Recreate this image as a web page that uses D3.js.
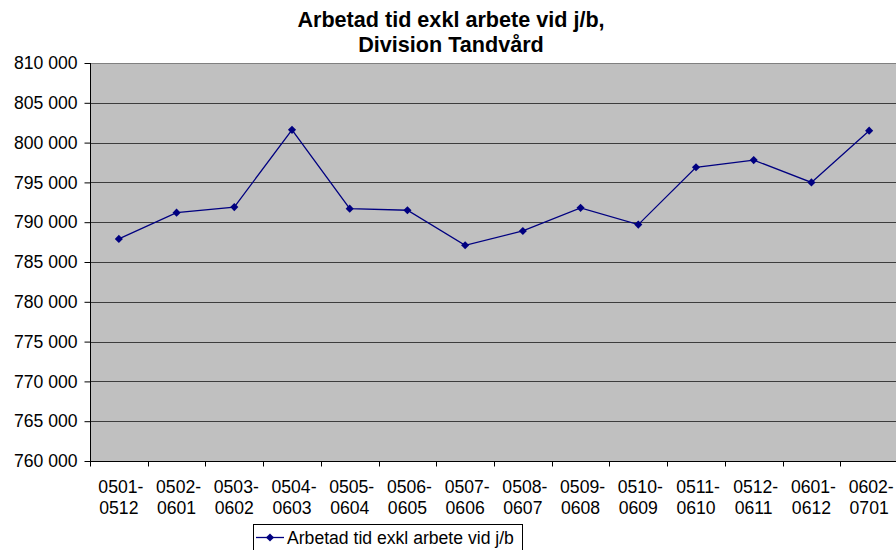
<!DOCTYPE html>
<html>
<head>
<meta charset="utf-8">
<script src="https://cdn.jsdelivr.net/npm/d3@7"></script>
<style>
  body { margin: 0; background: #fff; }
  svg { display: block; font-family: "Liberation Sans", Arial, sans-serif; }
</style>
</head>
<body>
<div id="chart"></div>
<script>
// ----------------------------------------------
// Data
// ----------------------------------------------
const periodsFrom = ['0501', '0502', '0503', '0504', '0505', '0506', '0507',
  '0508', '0509', '0510', '0511', '0512', '0601', '0602'];
const periodsTo = ['0512', '0601', '0602', '0603', '0604', '0605', '0606',
  '0607', '0608', '0609', '0610', '0611', '0612', '0701'];
const hours = [787900, 791200, 791900, 801600, 791700, 791500, 787100,
  788900, 791800, 789700, 796900, 797800, 795000, 801500];
const yTicks = [760000, 765000, 770000, 775000, 780000, 785000, 790000,
  795000, 800000, 805000, 810000];
const seriesName = 'Arbetad tid exkl arbete vid j/b';
const titleLines = ['Arbetad tid exkl arbete vid j/b,', 'Division Tandvård'];

// ----------------------------------------------
// Layout
// ----------------------------------------------
const width = 896, height = 550;
const plot = { left: 90, right: 898, top: 63, bottom: 461 };
const labelSize = 17.6;

const svg = d3.select('#chart').append('svg')
  .attr('width', width)
  .attr('height', height);

const x = d3.scaleBand()
  .domain(periodsFrom.map((d, i) => i))
  .range([plot.left, plot.right]);

const y = d3.scaleLinear()
  .domain([760000, 810000])
  .range([plot.bottom, plot.top]);

const fmt = v => d3.format(',')(v).replace(/,/g, ' ');

// plot background
svg.append('rect')
  .attr('x', plot.left)
  .attr('y', plot.top)
  .attr('width', plot.right - plot.left)
  .attr('height', plot.bottom - plot.top)
  .attr('fill', '#c0c0c0');

svg.append('line')
  .attr('x1', plot.left).attr('x2', plot.right)
  .attr('y1', plot.top + 0.5).attr('y2', plot.top + 0.5)
  .attr('stroke', '#808080');

// gridlines
svg.append('g')
  .selectAll('line')
  .data(yTicks.filter(v => v > 760000 && v < 810000))
  .join('line')
  .attr('x1', plot.left).attr('x2', plot.right)
  .attr('y1', d => Math.round(y(d)) + 0.5)
  .attr('y2', d => Math.round(y(d)) + 0.5)
  .attr('stroke', '#3c3c3c')
  .attr('stroke-width', 1);

// y axis
const yAxis = svg.append('g')
  .attr('transform', `translate(${plot.left + 0.5},0)`)
  .call(d3.axisLeft(y).tickValues(yTicks).tickFormat(fmt).tickSize(6).tickPadding(7));
yAxis.select('.domain').attr('stroke', '#000').attr('d', `M0,${plot.top}V${plot.bottom}`);
yAxis.selectAll('.tick line').attr('stroke', '#000');
yAxis.selectAll('text')
  .attr('font-size', labelSize)
  .attr('fill', '#000')
  .attr('font-family', '"Liberation Sans", Arial, sans-serif');

// x axis - ticks on band boundaries
const xAxis = svg.append('g')
  .attr('transform', `translate(0,${plot.bottom + 0.5})`);
xAxis.append('line')
  .attr('x1', plot.left).attr('x2', plot.right)
  .attr('stroke', '#000');
xAxis.selectAll('line.tk')
  .data(d3.range(periodsFrom.length + 1))
  .join('line')
  .attr('class', 'tk')
  .attr('x1', i => Math.round(plot.left + i * x.bandwidth()) + 0.5)
  .attr('x2', i => Math.round(plot.left + i * x.bandwidth()) + 0.5)
  .attr('y1', 0).attr('y2', 5)
  .attr('stroke', '#000');

const xLabels = xAxis.selectAll('text')
  .data(periodsFrom.map((d, i) => i))
  .join('text')
  .attr('text-anchor', 'middle')
  .attr('font-size', labelSize)
  .attr('fill', '#000');
xLabels.append('tspan')
  .attr('x', i => x(i) + x.bandwidth() / 2 + 2)
  .attr('y', 31)
  .text(i => periodsFrom[i] + '-');
xLabels.append('tspan')
  .attr('x', i => x(i) + x.bandwidth() / 2)
  .attr('y', 52.5)
  .text(i => periodsTo[i]);

// series line
const cx = i => x(i) + x.bandwidth() / 2;
const line = d3.line()
  .x((d, i) => cx(i))
  .y(d => y(d));

svg.append('path')
  .datum(hours)
  .attr('d', line)
  .attr('fill', 'none')
  .attr('stroke', '#000080')
  .attr('stroke-width', 1.3);

const diamond = d3.symbol().type(d3.symbolDiamond2).size(42);
svg.append('g')
  .selectAll('path')
  .data(hours)
  .join('path')
  .attr('d', diamond)
  .attr('transform', (d, i) => `translate(${cx(i)},${y(d)})`)
  .attr('fill', '#000080');

// title
svg.append('g')
  .selectAll('text')
  .data(titleLines)
  .join('text')
  .attr('x', 451)
  .attr('y', (d, i) => 27 + i * 25)
  .attr('text-anchor', 'middle')
  .attr('font-size', 21.6)
  .attr('font-weight', 'bold')
  .attr('fill', '#000')
  .text(d => d);

// legend
const legend = svg.append('g');
legend.append('rect')
  .attr('x', 253.5).attr('y', 524.5)
  .attr('width', 269).attr('height', 26)
  .attr('fill', '#fff')
  .attr('stroke', '#000');
legend.append('line')
  .attr('x1', 256).attr('x2', 284)
  .attr('y1', 537.5).attr('y2', 537.5)
  .attr('stroke', '#000080')
  .attr('stroke-width', 1.3);
legend.append('path')
  .attr('d', diamond)
  .attr('transform', 'translate(270,537.5)')
  .attr('fill', '#000080');
legend.append('text')
  .attr('x', 287)
  .attr('y', 543.5)
  .attr('font-size', labelSize)
  .attr('fill', '#000')
  .text(seriesName);
</script>
</body>
</html>
